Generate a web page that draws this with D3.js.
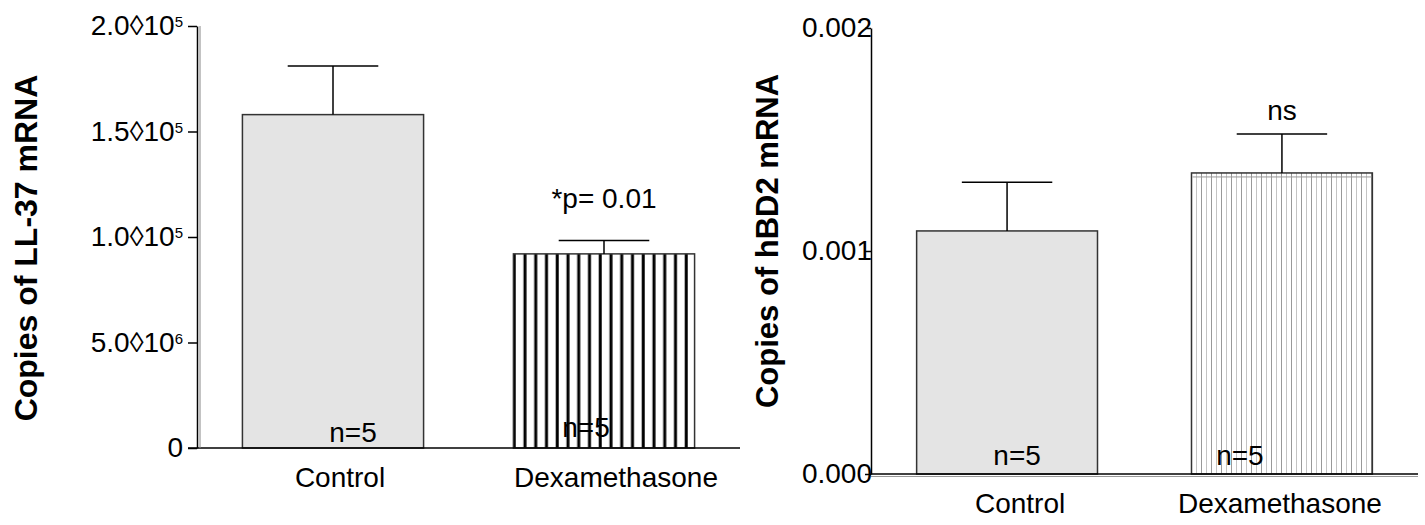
<!DOCTYPE html>
<html>
<head>
<meta charset="utf-8">
<script src="https://cdn.jsdelivr.net/npm/d3@7"></script>
<style>
  body { margin: 0; background: #fff; }
  text { font-family: Arial, "Liberation Sans", Helvetica, sans-serif; fill: #000; }
</style>
</head>
<body>
<div id="chart"></div>
<script>
// values
var categories = ["Control", "Dexamethasone"];

var ll37Mean = [158000, 92000];
var ll37Sem = [23000, 6300];
var ll37Ticks = [0, 50000, 100000, 150000, 200000];
var ll37TickBase = ["0", "5.0\u25CA10", "1.0\u25CA10", "1.5\u25CA10", "2.0\u25CA10"];
var ll37TickExp = ["", "6", "5", "5", "5"];
var ll37Notes = ["", "*p= 0.01"];

var hbd2Mean = [0.00109, 0.00135];
var hbd2Sem = [0.000218, 0.000175];
var hbd2Ticks = [0, 0.001, 0.002];
var hbd2TickLabels = ["0.000", "0.001", "0.002"];
var hbd2Notes = ["", "ns"];

var nLabels = ["n=5", "n=5"];

var width = 1425, height = 525;

var svg = d3.select("#chart").append("svg")
  .attr("width", width)
  .attr("height", height);

svg.append("rect").attr("width", width).attr("height", height).attr("fill", "#fff");

var defs = svg.append("defs");

// bold black stripes (left panel)
var p1 = defs.append("pattern")
  .attr("id", "stripesBold")
  .attr("patternUnits", "userSpaceOnUse")
  .attr("width", 10.75).attr("height", 20);
p1.append("rect").attr("width", 10.75).attr("height", 20).attr("fill", "#fff");
p1.append("line").attr("x1", 9).attr("x2", 9).attr("y1", 0).attr("y2", 20)
  .attr("stroke", "#000").attr("stroke-width", 3);

// fine grey stripes (right panel)
var p2 = defs.append("pattern")
  .attr("id", "stripesFine")
  .attr("patternUnits", "userSpaceOnUse")
  .attr("width", 10).attr("height", 20);
p2.append("rect").attr("width", 10).attr("height", 20).attr("fill", "#fff");
p2.append("line").attr("x1", 1.5).attr("x2", 1.5).attr("y1", 0).attr("y2", 20)
  .attr("stroke", "#999").attr("stroke-width", 1);
p2.append("line").attr("x1", 6.5).attr("x2", 6.5).attr("y1", 0).attr("y2", 20)
  .attr("stroke", "#c4c4c4").attr("stroke-width", 1);

function drawPanel(opt) {
  var x = d3.scaleBand()
    .domain(categories)
    .range(opt.xRange)
    .paddingInner(opt.padIn)
    .paddingOuter(opt.padOut);

  var y = d3.scaleLinear()
    .domain([0, opt.ticks[opt.ticks.length - 1]])
    .range(opt.yRange);

  var g = svg.append("g");
  var x0 = opt.xRange[0];

  // bars
  g.selectAll("rect.bar")
    .data(opt.mean)
    .enter()
    .append("rect")
    .attr("class", "bar")
    .attr("x", (d, i) => x(categories[i]))
    .attr("y", d => y(d))
    .attr("width", x.bandwidth())
    .attr("height", d => y(0) - y(d))
    .attr("fill", (d, i) => i === 0 ? "#e4e4e4" : "url(#" + opt.hatch + ")")
    .attr("stroke", "#333")
    .attr("stroke-width", 1.5);

  if (opt.innerTop) {
    g.append("line")
      .attr("x1", x(categories[1]) + 1)
      .attr("x2", x(categories[1]) + x.bandwidth() - 1)
      .attr("y1", y(opt.mean[1]) + 4)
      .attr("y2", y(opt.mean[1]) + 4)
      .attr("stroke", "#999").attr("stroke-width", 1);
  }

  // error bars (upper only)
  var cap = x.bandwidth() / 2;
  opt.mean.forEach(function(m, i) {
    var cx = x(categories[i]) + x.bandwidth() / 2;
    g.append("line")
      .attr("x1", cx).attr("x2", cx)
      .attr("y1", y(m)).attr("y2", y(m + opt.sem[i]))
      .attr("stroke", "#000").attr("stroke-width", 1.5);
    g.append("line")
      .attr("x1", cx - cap / 2).attr("x2", cx + cap / 2)
      .attr("y1", y(m + opt.sem[i])).attr("y2", y(m + opt.sem[i]))
      .attr("stroke", "#000").attr("stroke-width", 1.5);
    if (opt.notes[i]) {
      g.append("text")
        .attr("x", cx)
        .attr("y", y(m + opt.sem[i]) - opt.noteGap)
        .attr("text-anchor", "middle")
        .style("font-size", "28px")
        .text(opt.notes[i]);
    }
    g.append("text")
      .attr("x", cx + opt.nShift[i])
      .attr("y", y(0) - opt.nLift[i])
      .attr("text-anchor", "middle")
      .style("font-size", "28px")
      .text(nLabels[i]);
  });

  // y axis
  var yAxis = g.append("g")
    .attr("transform", "translate(" + x0 + ",0)")
    .call(d3.axisLeft(y)
      .tickValues(opt.ticks)
      .tickSize(opt.tickSize)
      .tickSizeOuter(0)
      .tickPadding(opt.tickPad));
  yAxis.selectAll("path, line").attr("stroke", "#000").attr("stroke-width", 1.5);
  yAxis.selectAll("text")
    .style("font-size", "28px")
    .attr("fill", "#000")
    .each(function(d, i) {
      var t = d3.select(this).text("");
      t.append("tspan").text(opt.tickBase[i]);
      if (opt.tickExp && opt.tickExp[i]) {
        t.append("tspan")
          .attr("dy", "-0.55em")
          .style("font-size", "15px")
          .text(opt.tickExp[i]);
      }
    });

  // x axis
  var xAxis = g.append("g")
    .attr("transform", "translate(0," + y(0) + ")")
    .call(d3.axisBottom(x).tickSize(0).tickPadding(19));
  xAxis.select("path").remove();
  xAxis.selectAll("text")
    .style("font-size", "28px")
    .attr("fill", "#000")
    .attr("dx", (d, i) => opt.labelShift[i]);

  g.append("line")
    .attr("x1", x0 - opt.axisLeftExt).attr("x2", opt.xRange[1])
    .attr("y1", y(0)).attr("y2", y(0))
    .attr("stroke", "#000").attr("stroke-width", 1.5);

  // faint doubled axis lines
  if (opt.doubleY) {
    g.append("line")
      .attr("x1", x0 + 3).attr("x2", x0 + 3)
      .attr("y1", opt.yRange[1]).attr("y2", y(0))
      .attr("stroke", "#888").attr("stroke-width", 1);
  }
  if (opt.doubleX) {
    g.append("line")
      .attr("x1", x0).attr("x2", opt.xRange[1])
      .attr("y1", y(0) + 2.5).attr("y2", y(0) + 2.5)
      .attr("stroke", "#999").attr("stroke-width", 1);
  }

  // y title
  svg.append("text")
    .attr("transform", "translate(" + opt.titlePos[0] + "," + opt.titlePos[1] + ") rotate(-90)")
    .attr("text-anchor", "middle")
    .style("font-size", opt.titleSize)
    .style("font-weight", "bold")
    .text(opt.title);
}

drawPanel({
  xRange: [197, 740], padIn: 0.3315, padOut: 0.1676,
  yRange: [448, 26],
  mean: ll37Mean, sem: ll37Sem,
  ticks: ll37Ticks, tickBase: ll37TickBase, tickExp: ll37TickExp,
  tickSize: 9, tickPad: 5,
  notes: ll37Notes, noteGap: 33,
  nShift: [20, -18], nLift: [6, 11],
  labelShift: [7, 12],
  hatch: "stripesBold", innerTop: false,
  axisLeftExt: 9, doubleY: true, doubleX: false,
  title: "Copies of LL-37 mRNA", titlePos: [37, 248], titleSize: "32px"
});

drawPanel({
  xRange: [871, 1418], padIn: 0.342, padOut: 0.166,
  yRange: [474, 28],
  mean: hbd2Mean, sem: hbd2Sem,
  ticks: hbd2Ticks, tickBase: hbd2TickLabels, tickExp: null,
  tickSize: 6, tickPad: -7,
  notes: hbd2Notes, noteGap: 14,
  nShift: [10, -42], nLift: [9, 9],
  labelShift: [13, -2],
  hatch: "stripesFine", innerTop: true,
  axisLeftExt: 0, doubleY: false, doubleX: true,
  title: "Copies of hBD2 mRNA", titlePos: [778, 241], titleSize: "31px"
});
</script>
</body>
</html>
